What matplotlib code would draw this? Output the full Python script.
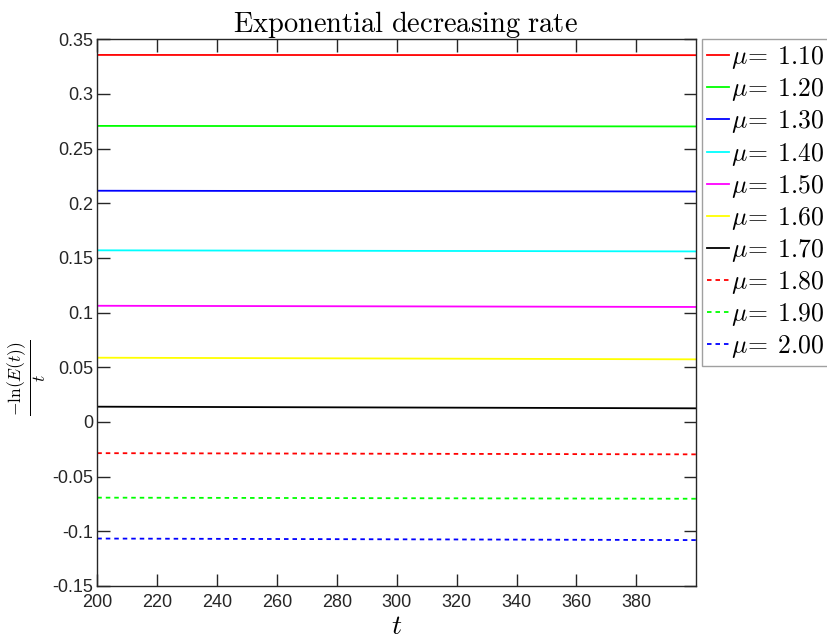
import matplotlib
matplotlib.use("Agg")
import matplotlib.pyplot as plt
from matplotlib.ticker import FuncFormatter

plt.rcParams["mathtext.fontset"] = "cm"
plt.rcParams["axes.unicode_minus"] = False
plt.rcParams["font.family"] = ["Liberation Sans", "DejaVu Sans"]

# start / end of the simulated window
t = [200, 399.9]

mu = [1.10, 1.20, 1.30, 1.40, 1.50, 1.60, 1.70, 1.80, 1.90, 2.00]

# -ln(E(t))/t read at t=200 and t=400
rate_start = [0.3357, 0.2708, 0.2115, 0.1570, 0.1063, 0.0588, 0.0140, -0.0285, -0.0692, -0.1066]
rate_end = [0.3355, 0.2703, 0.2108, 0.1560, 0.1052, 0.0573, 0.0125, -0.0296, -0.0702, -0.1080]

colors = ["#ff0000", "#00ff00", "#0000ff", "#00ffff", "#ff00ff",
          "#ffff00", "#000000", "#ff0000", "#00ff00", "#0000ff"]
styles = ["-"] * 7 + ["--"] * 3

W, H = 828, 641
fig = plt.figure(figsize=(W / 100, H / 100), dpi=100)
ax = fig.add_axes([97.3 / W, 1 - 586 / H, (696 - 97.3) / W, (586 - 39.3) / H])

for m, y0, y1, c, ls in zip(mu, rate_start, rate_end, colors, styles):
    line, = ax.plot(t, [y0, y1], color=c, linestyle=ls, lw=1.3,
                    label=rf"$\mu\!=\;{m:.2f}$")
    if ls == "--":
        line.set_dashes((2.5, 2.2))

ax.set_xlim(200, 399.9)
ax.set_ylim(-0.15, 0.35)
ax.set_xticks(range(200, 400, 20))
ax.set_yticks([-0.15, -0.1, -0.05, 0, 0.05, 0.1, 0.15, 0.2, 0.25, 0.3, 0.35])
ax.yaxis.set_major_formatter(FuncFormatter(lambda v, p: f"{v:g}"))

ax.tick_params(direction="in", length=9, width=1, colors="#262626",
               labelsize=13, top=True, right=True, pad=3)
ax.tick_params(axis="x", pad=6)
for s in ax.spines.values():
    s.set_color("#262626")
    s.set_linewidth(1.0)

ax.set_title(r"$\mathrm{Exponential\ decreasing\ rate}$", fontsize=20.5,
             pad=5, x=0.515)
ax.set_xlabel(r"$t$", fontsize=20, labelpad=2)
fig.text(28 / W, 1 - 378 / H, r"$\frac{-\ln(E(t))}{t}$", fontsize=18,
         rotation=90, ha="center", va="center")

leg = fig.legend(loc="upper left", bbox_to_anchor=(702 / W, 1 - 39 / H),
                 fontsize=18.5, handlelength=0.85, handletextpad=0.08,
                 labelspacing=0.2, borderpad=0.2, borderaxespad=0,
                 fancybox=False, framealpha=1)
leg.get_frame().set_edgecolor("#a0a0a0")
leg.get_frame().set_linewidth(1.0)

fig.savefig("out.png", dpi=100)
